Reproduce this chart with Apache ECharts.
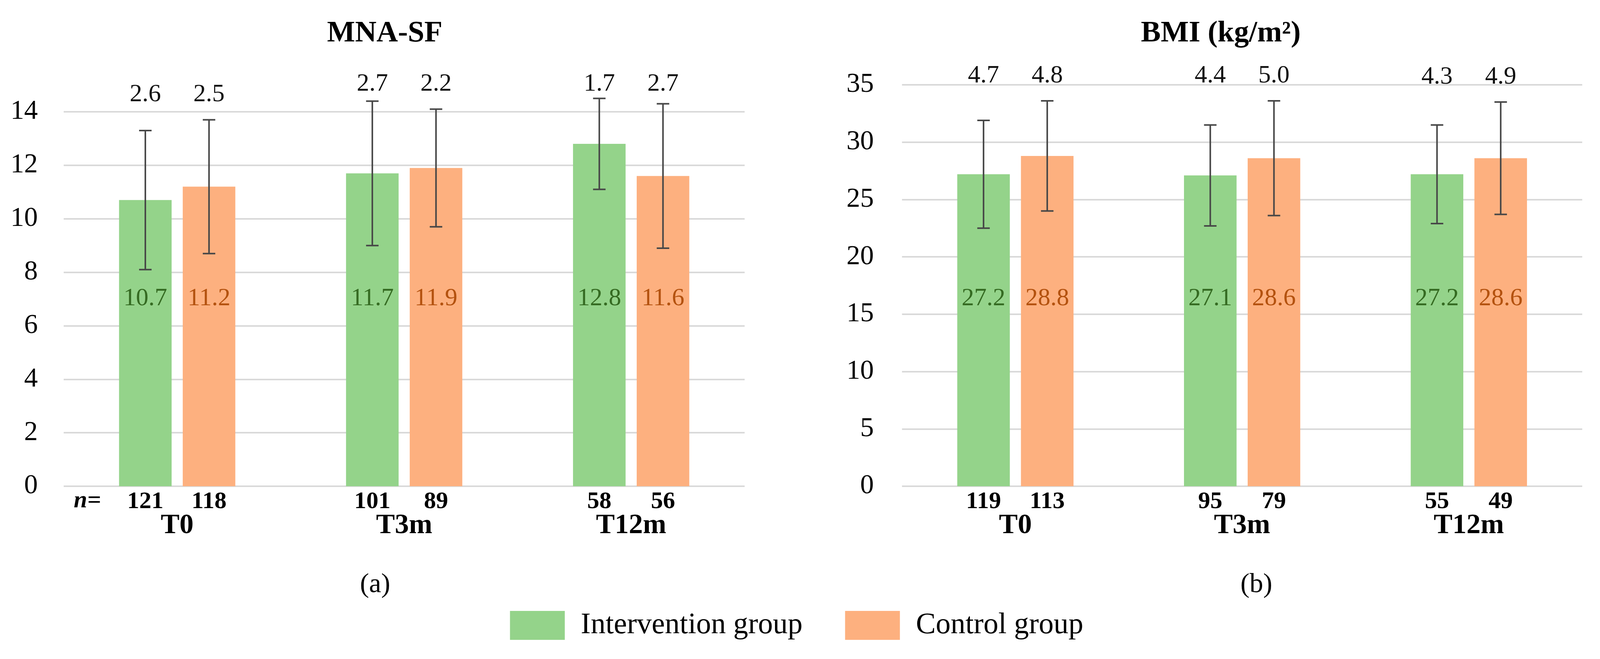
<!DOCTYPE html>
<html><head><meta charset="utf-8">
<script src="https://cdn.jsdelivr.net/npm/echarts@6/dist/echarts.min.js"></script>
<style>html,body{margin:0;padding:0;background:#fff;overflow:hidden}#c{width:100vw;height:100vh}</style>
</head><body><div id="c"></div>
<script>
// ---------- data ----------
const categories = ['T0', 'T3m', 'T12m'];
const groupNames = ['Intervention group', 'Control group'];

const mnaMeanInt = [10.7, 11.7, 12.8];
const mnaMeanCtl = [11.2, 11.9, 11.6];
const mnaSdInt = [2.6, 2.7, 1.7];
const mnaSdCtl = [2.5, 2.2, 2.7];
const mnaNInt = [121, 101, 58];
const mnaNCtl = [118, 89, 56];
const mnaTicks = [0, 2, 4, 6, 8, 10, 12, 14];

const bmiMeanInt = [27.2, 27.1, 27.2];
const bmiMeanCtl = [28.8, 28.6, 28.6];
const bmiSdInt = [4.7, 4.4, 4.3];
const bmiSdCtl = [4.8, 5.0, 4.9];
const bmiNInt = [119, 95, 55];
const bmiNCtl = [113, 79, 49];
const bmiTicks = [0, 5, 10, 15, 20, 25, 30, 35];

const titles = ['MNA-SF', 'BMI (kg/m\u00B2)'];
const panelTags = ['(a)', '(b)'];

// ---------- style (layout designed on a 4321 x 1686 canvas, x scaled to the real width) ----------
const REF_W = 4321, REF_H = 1686;
const FF = 'Liberation Serif';
const GREEN = '#94d38a', ORANGE = '#fdb07f';
const GREEN_TXT = '#356b22', ORANGE_TXT = '#b4520f';
const ERR = '#474747';

const chart = echarts.init(document.getElementById('c'), null, { renderer: 'canvas' });

function build() {
  const sx = chart.getWidth() / REF_W;
  const sy = chart.getHeight() / REF_H;
  const X = v => v * sx, Y = v => v * sy;

  const BAR_W = X(142), BAR_GAP_PX = X(30);
  const BAR_OFF = (BAR_W + BAR_GAP_PX) / 2;
  const CAP = 16;

  const grids = [
    { left: X(172), top: Y(286), width: X(1839), height: Y(958) },
    { left: X(2436), top: Y(217), width: X(1837), height: Y(1027) }
  ];
  const sdRowY = [Y(215), Y(189)];
  const meanRowY = Y(764);
  const yLabelMargin = [X(70), X(76)];

  function tops(a, sa, b, sb) { return a.map((v, i) => Math.max(v + sa[i], b[i] + sb[i])); }
  const mnaTops = tops(mnaMeanInt, mnaSdInt, mnaMeanCtl, mnaSdCtl);
  const bmiTops = tops(bmiMeanInt, bmiSdInt, bmiMeanCtl, bmiSdCtl);

  function overlay(ax, gi, means, sds, ns, allTops) {
    return {
      type: 'custom', xAxisIndex: ax, yAxisIndex: ax, clip: false, silent: true, z: 5,
      data: means.map((m, i) => [i, m, sds[i], ns[i]]),
      renderItem: function (params, api) {
        const i = api.value(0), m = api.value(1), sd = api.value(2), n = api.value(3);
        const off = (gi === 0 ? -1 : 1) * BAR_OFF;
        const x = api.coord([i, m])[0] + off;
        const top = api.coord([i, m + sd])[1];
        const bot = api.coord([i, m - sd])[1];
        const base = api.coord([i, 0])[1];
        const catTopPx = api.coord([i, allTops[i]])[1];
        const sdY = Math.max(sdRowY[ax], catTopPx - Y(64));
        const ls = { stroke: ERR, lineWidth: 4 };
        const txt = (t, y, size, color, weight) => ({
          type: 'text', x: x, y: y,
          style: { text: t, fontFamily: FF, fontSize: size, fontWeight: weight || 'normal',
            fill: color, textAlign: 'center', textVerticalAlign: 'middle', align: 'center', verticalAlign: 'middle' }
        });
        return {
          type: 'group', children: [
            { type: 'line', shape: { x1: x, y1: top, x2: x, y2: bot }, style: ls },
            { type: 'line', shape: { x1: x - CAP, y1: top, x2: x + CAP, y2: top }, style: ls },
            { type: 'line', shape: { x1: x - CAP, y1: bot, x2: x + CAP, y2: bot }, style: ls },
            txt(sd.toFixed(1), sdY, 64, '#111'),
            txt(m.toFixed(1), meanRowY, 64, gi === 0 ? GREEN_TXT : ORANGE_TXT),
            txt(String(n), base + Y(40), 62, '#000', 'bold')
          ]
        };
      }
    };
  }

  const ticksets = [mnaTicks, bmiTicks];
  const xAxes = [0, 1].map(k => ({
    type: 'category', gridIndex: k, data: categories,
    axisLine: { show: false }, axisTick: { show: false },
    axisLabel: { fontFamily: FF, fontSize: 72, fontWeight: 'bold', color: '#000', margin: Y(65), lineHeight: 72 }
  }));
  const yAxes = [0, 1].map(k => {
    const t = ticksets[k];
    return {
      type: 'value', gridIndex: k, min: t[0], max: t[t.length - 1], interval: t[1] - t[0],
      axisLine: { show: false }, axisTick: { show: false },
      splitLine: { show: true, lineStyle: { color: '#d9d9d9', width: 4 } },
      axisLabel: { fontFamily: FF, fontSize: 70, color: '#000', margin: yLabelMargin[k] }
    };
  });

  function bar(ax, gi, vals) {
    return {
      type: 'bar', name: groupNames[gi], xAxisIndex: ax, yAxisIndex: ax, data: vals,
      barWidth: BAR_W, barGap: (BAR_GAP_PX / BAR_W * 100).toFixed(2) + '%',
      itemStyle: { color: gi === 0 ? GREEN : ORANGE }, z: 2, silent: true
    };
  }

  const txtG = (t, x, y, size, weight, style) => ({
    type: 'text', x: X(x), y: Y(y), silent: true,
    style: { text: t, fontFamily: FF, fontSize: size, fontWeight: weight || 'normal', fontStyle: style || 'normal',
      fill: '#000', textAlign: 'center', textVerticalAlign: 'middle', align: 'center', verticalAlign: 'middle' }
  });

  const legendBase = {
    icon: 'rect', itemWidth: X(148), itemHeight: Y(74), top: Y(1557), selectedMode: false,
    textStyle: { fontFamily: FF, fontSize: 76, color: '#000', padding: [0, 0, 0, X(38)] }
  };

  return {
    backgroundColor: '#fff',
    animation: false,
    grid: grids,
    xAxis: xAxes,
    yAxis: yAxes,
    legend: [
      Object.assign({}, legendBase, { data: [groupNames[0]], left: X(1372) }),
      Object.assign({}, legendBase, { data: [groupNames[1]], left: X(2277) })
    ],
    graphic: [
      txtG(titles[0], 1039, 86, 76, 'bold'),
      txtG(titles[1], 3297, 86, 76, 'bold'),
      txtG('n=', 236, 1282, 62, 'bold', 'italic'),
      txtG(panelTags[0], 1013, 1497, 70),
      txtG(panelTags[1], 3393, 1497, 70)
    ],
    series: [
      bar(0, 0, mnaMeanInt), bar(0, 1, mnaMeanCtl),
      bar(1, 0, bmiMeanInt), bar(1, 1, bmiMeanCtl),
      overlay(0, 0, mnaMeanInt, mnaSdInt, mnaNInt, mnaTops),
      overlay(0, 1, mnaMeanCtl, mnaSdCtl, mnaNCtl, mnaTops),
      overlay(1, 0, bmiMeanInt, bmiSdInt, bmiNInt, bmiTops),
      overlay(1, 1, bmiMeanCtl, bmiSdCtl, bmiNCtl, bmiTops)
    ]
  };
}

chart.setOption(build());
window.addEventListener('resize', function () { chart.resize(); chart.setOption(build(), true); });
</script>
</body></html>
